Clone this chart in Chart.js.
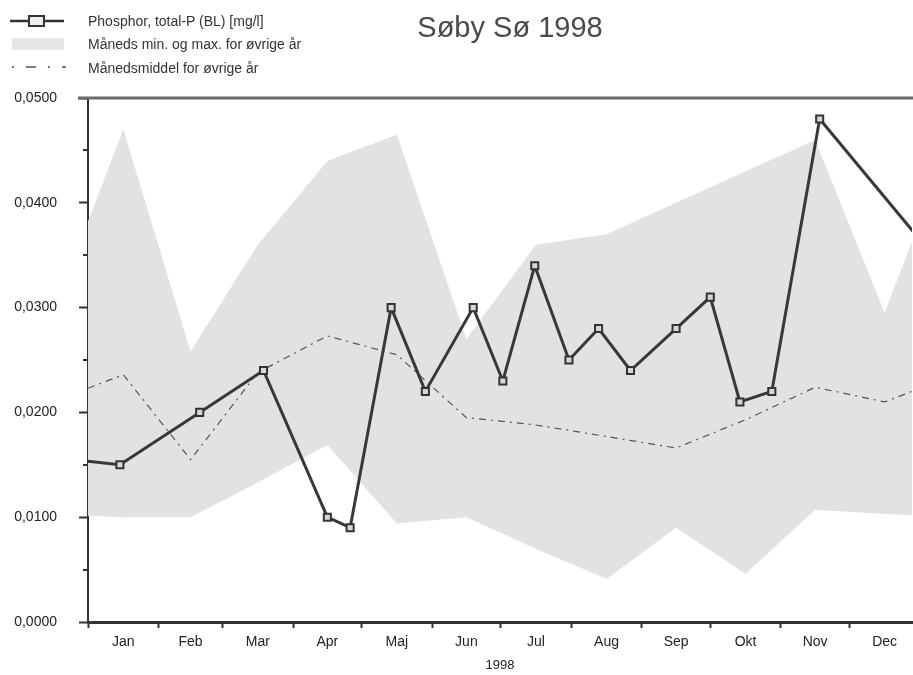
<!DOCTYPE html>
<html>
<head>
<meta charset="utf-8">
<script src="https://cdn.jsdelivr.net/npm/chart.js@4/dist/chart.umd.min.js"></script>
<style>
  html, body { margin: 0; padding: 0; background: #fff; }
  #wrap { position: relative; width: 913px; height: 675px; font-family: "Liberation Sans", Arial, sans-serif; }
  #c { position: absolute; left: 0; top: 0; }
  .title { position: absolute; left: 0; width: 1020px; top: 10px; text-align: center; font-size: 29px; line-height: 34px; color: #4a4a4a; }
  .lg { position: absolute; left: 88px; font-size: 14px; color: #333; line-height: 16px; white-space: nowrap; }
  .sym { position: absolute; left: 8px; }
</style>
</head>
<body>
<div id="wrap">
  <canvas id="c" width="913" height="675"></canvas>
  <div class="title">Søby Sø 1998</div>
  <svg class="sym" style="top:13px" width="60" height="16">
    <line x1="2" y1="8" x2="56" y2="8" stroke="#333" stroke-width="2.5"/>
    <rect x="21" y="3" width="15" height="10" fill="#eee" stroke="#333" stroke-width="2"/>
  </svg>
  <div class="lg" style="top:13px">Phosphor, total-P (BL) [mg/l]</div>
  <svg class="sym" style="top:37px" width="60" height="14">
    <rect x="4" y="1" width="52" height="12" fill="#e6e6e6"/>
  </svg>
  <div class="lg" style="top:36px">Måneds min. og max. for øvrige år</div>
  <svg class="sym" style="top:60px" width="60" height="14">
    <line x1="4" y1="7" x2="58" y2="7" stroke="#555" stroke-width="1.3" stroke-dasharray="2 12 10 12"/>
  </svg>
  <div class="lg" style="top:60px">Månedsmiddel for øvrige år</div>
</div>
<script>
// ---- data ----
const monthLabels = ['Jan','Feb','Mar','Apr','Maj','Jun','Jul','Aug','Sep','Okt','Nov','Dec'];
const monthStartDays = [0,31,59,90,120,151,181,212,243,273,304,334];
const monthMidDays = [15.5,45,74.5,105,135.5,166,196.5,227.5,258,288.5,319,349.5];

// 1998 samples (day of year, value mg/l)
const sampleDays = [14,49,77,105,115,133,148,169,182,196,211,224,238,258,273,286,300,321];
const phosphor = [0.015,0.020,0.024,0.010,0.009,0.030,0.022,0.030,0.023,0.034,0.025,0.028,0.024,0.028,0.031,0.021,0.022,0.048];
// neighbouring samples outside 1998 (line enters/leaves the plot)
const prevSample = { day: -20, value: 0.0158 };
const nextSample = { day: 379, value: 0.0328 };

// other years, monthly statistics
const monthMax  = [0.0470,0.0258,0.0360,0.0440,0.0465,0.0270,0.0360,0.0370,0.0400,0.0430,0.0460,0.0295];
const monthMin  = [0.0100,0.0100,0.0133,0.0169,0.0094,0.0100,0.0070,0.0041,0.0090,0.0046,0.0107,0.0103];
const monthMean = [0.0236,0.0155,0.0238,0.0273,0.0255,0.0195,0.0188,0.0177,0.0166,0.0193,0.0224,0.0210];

const yTicks = [0,0.01,0.02,0.03,0.04,0.05];

// ---- build series ----
function cyclic(vals) {
  const pts = [{x: monthMidDays[11] - 365, y: vals[11]}];
  vals.forEach((v, i) => pts.push({x: monthMidDays[i], y: v}));
  pts.push({x: monthMidDays[0] + 365, y: vals[0]});
  return pts;
}
const phosphorPts = [{x: prevSample.day, y: prevSample.value}]
  .concat(sampleDays.map((d, i) => ({x: d, y: phosphor[i]})))
  .concat([{x: nextSample.day, y: nextSample.value}]);

const midSet = new Set(monthMidDays);
const FONT = '"Liberation Sans", Arial, sans-serif';

const extraTicks = {
  id: 'extraTicks',
  afterDraw(chart) {
    const {ctx, chartArea, scales} = chart;
    const y = scales.y;
    ctx.save();
    // top frame line
    ctx.strokeStyle = '#6b6b6b';
    ctx.lineWidth = 3;
    ctx.beginPath();
    ctx.moveTo(chartArea.left - 10, chartArea.top);
    ctx.lineTo(chartArea.right + 2, chartArea.top);
    ctx.stroke();
    // minor y ticks
    ctx.strokeStyle = '#333';
    ctx.lineWidth = 2;
    for (let i = 0; i < yTicks.length - 1; i++) {
      const v = (yTicks[i] + yTicks[i + 1]) / 2;
      const py = Math.round(y.getPixelForValue(v));
      ctx.beginPath();
      ctx.moveTo(chartArea.left - 5, py);
      ctx.lineTo(chartArea.left, py);
      ctx.stroke();
    }
    ctx.restore();
  }
};

new Chart(document.getElementById('c'), {
  type: 'line',
  data: {
    datasets: [
      {
        label: 'Phosphor, total-P (BL) [mg/l]',
        data: phosphorPts,
        borderColor: '#383838',
        borderWidth: 3,
        pointStyle: 'rect',
        pointRadius: 5,
        pointBorderWidth: 2,
        pointBorderColor: '#333',
        pointBackgroundColor: '#d8d8d8',
        tension: 0,
        order: 0
      },
      {
        label: 'Månedsmiddel for øvrige år',
        data: cyclic(monthMean),
        borderColor: '#555',
        borderWidth: 1.2,
        borderDash: [7, 5, 2, 5],
        pointRadius: 0,
        tension: 0,
        order: 1
      },
      {
        label: 'Måneds max.',
        data: cyclic(monthMax),
        borderWidth: 0,
        borderColor: 'rgba(0,0,0,0)',
        backgroundColor: '#e2e2e2',
        pointRadius: 0,
        fill: '+1',
        tension: 0,
        order: 2
      },
      {
        label: 'Måneds min.',
        data: cyclic(monthMin),
        borderWidth: 0,
        borderColor: 'rgba(0,0,0,0)',
        pointRadius: 0,
        fill: false,
        tension: 0,
        order: 3
      }
    ]
  },
  options: {
    responsive: false,
    animation: false,
    devicePixelRatio: 1,
    layout: { autoPadding: false, padding: { left: 0, right: 1, top: 98, bottom: 0 } },
    plugins: { legend: { display: false }, tooltip: { enabled: false }, title: { display: false } },
    scales: {
      x: {
        type: 'linear',
        min: 0,
        max: 361.5,
        afterBuildTicks(scale) {
          const vals = monthStartDays.concat(monthMidDays).sort((a, b) => a - b);
          scale.ticks = vals.map(v => ({value: v}));
        },
        afterFit(scale) { scale.height = 53; scale.paddingLeft = 0; scale.paddingRight = 0; },
        ticks: {
          autoSkip: false,
          maxRotation: 0,
          minRotation: 0,
          padding: 6,
          color: '#222',
          font: { family: FONT, size: 14 },
          callback(v) {
            const i = monthMidDays.indexOf(v);
            return i >= 0 ? monthLabels[i] : '';
          }
        },
        grid: {
          drawOnChartArea: false,
          drawTicks: true,
          tickLength: 6,
          tickWidth: 2,
          tickColor: (ctx) => (ctx.tick && midSet.has(ctx.tick.value)) ? 'rgba(0,0,0,0)' : '#333'
        },
        border: { display: true, color: '#333', width: 3 },
        title: {
          display: true,
          text: '1998',
          color: '#222',
          font: { family: FONT, size: 13 },
          padding: { top: 0, bottom: 2 }
        }
      },
      y: {
        min: 0,
        max: 0.05,
        afterBuildTicks(scale) { scale.ticks = yTicks.map(v => ({value: v})); },
        afterFit(scale) { scale.width = 88; },
        ticks: {
          padding: 22,
          color: '#222',
          font: { family: FONT, size: 14 },
          callback: (v) => Number(v).toFixed(4).replace('.', ',')
        },
        grid: {
          drawOnChartArea: false,
          drawTicks: true,
          tickLength: 9,
          tickWidth: 2,
          tickColor: '#333'
        },
        border: { display: true, color: '#333', width: 2 }
      }
    }
  },
  plugins: [extraTicks]
});
</script>
</body>
</html>
